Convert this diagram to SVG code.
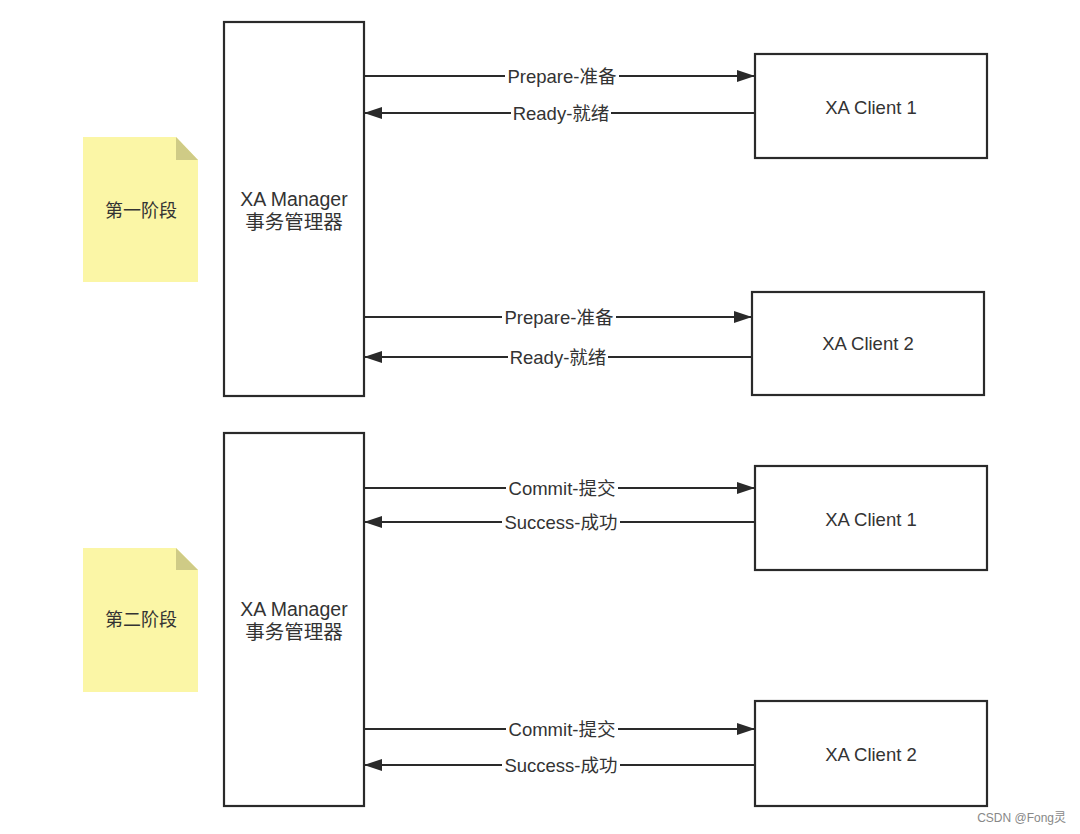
<svg xmlns="http://www.w3.org/2000/svg" width="1080" height="834" viewBox="0 0 1080 834">
<defs>
<style>
.box{fill:#fff;stroke:#2a2a2a;stroke-width:2.2}
.note{fill:#fbf6a6}
.fold{fill:#cfcb86}
.t{font-family:"Liberation Sans","Noto Sans CJK SC",sans-serif;font-size:18.5px;fill:#333;text-anchor:middle;dominant-baseline:central}
.tm{font-family:"Liberation Sans","Noto Sans CJK SC",sans-serif;font-size:19.5px;fill:#333;text-anchor:middle;dominant-baseline:central}
.nt{font-family:"Liberation Sans","Noto Sans CJK SC",sans-serif;font-size:18px;fill:#333;text-anchor:middle;dominant-baseline:central}
.lbl{font-family:"Liberation Sans","Noto Sans CJK SC",sans-serif;font-size:18.5px;fill:#333;text-anchor:middle;dominant-baseline:central}
.ln{stroke:#2a2a2a;stroke-width:2;fill:none}
.bg{fill:#fff}
.wm{font-family:"Liberation Sans","Noto Sans CJK SC",sans-serif;font-size:12px;fill:#888;text-anchor:end}
</style>
<marker id="ah2" viewBox="0 0 18 12" refX="18" refY="6" markerWidth="18" markerHeight="12" markerUnits="userSpaceOnUse" orient="auto"><path d="M0,0 L18,6 L0,12 z" fill="#2a2a2a"/></marker>
</defs>
<rect width="1080" height="834" fill="#fff"/>

<g id="connectors">
<line class="ln" x1="364" y1="76" x2="755" y2="76" marker-end="url(#ah2)"/>
<line class="ln" x1="755" y1="113" x2="364" y2="113" marker-end="url(#ah2)"/>
<line class="ln" x1="364" y1="317" x2="752" y2="317" marker-end="url(#ah2)"/>
<line class="ln" x1="752" y1="357" x2="364" y2="357" marker-end="url(#ah2)"/>
<line class="ln" x1="364" y1="488" x2="755" y2="488" marker-end="url(#ah2)"/>
<line class="ln" x1="755" y1="522" x2="364" y2="522" marker-end="url(#ah2)"/>
<line class="ln" x1="364" y1="729" x2="755" y2="729" marker-end="url(#ah2)"/>
<line class="ln" x1="755" y1="765" x2="364" y2="765" marker-end="url(#ah2)"/>
<rect class="bg" x="505" y="66" width="114" height="20"/>
<text class="lbl" x="562" y="76">Prepare-准备</text>
<rect class="bg" x="511" y="103" width="100" height="20"/>
<text class="lbl" x="561" y="113">Ready-就绪</text>
<rect class="bg" x="502" y="307" width="114" height="20"/>
<text class="lbl" x="559" y="317">Prepare-准备</text>
<rect class="bg" x="508" y="347" width="100" height="20"/>
<text class="lbl" x="558" y="357">Ready-就绪</text>
<rect class="bg" x="506" y="478" width="112" height="20"/>
<text class="lbl" x="562" y="488">Commit-提交</text>
<rect class="bg" x="502" y="512" width="118" height="20"/>
<text class="lbl" x="561" y="522">Success-成功</text>
<rect class="bg" x="506" y="719" width="112" height="20"/>
<text class="lbl" x="562" y="729">Commit-提交</text>
<rect class="bg" x="502" y="755" width="118" height="20"/>
<text class="lbl" x="561" y="765">Success-成功</text>
</g>

<g id="note1">
<path class="note" d="M83,137 L176,137 L198,160 L198,282 L83,282 z"/>
<path class="fold" d="M176,137 L198,160 L176,160 z"/>
<text class="nt" x="141" y="211">第一阶段</text>
</g>
<g id="manager1">
<rect class="box" x="224" y="22" width="140" height="374"/>
<text class="tm" x="294" y="199">XA Manager</text>
<text class="tm" x="294" y="222">事务管理器</text>
</g>
<g id="client1a">
<rect class="box" x="755" y="54" width="232" height="104"/>
<text class="t" x="871" y="107">XA Client 1</text>
</g>
<g id="client2a">
<rect class="box" x="752" y="292" width="232" height="103"/>
<text class="t" x="868" y="343">XA Client 2</text>
</g>

<g id="note2">
<path class="note" d="M83,548 L176,548 L198,570 L198,692 L83,692 z"/>
<path class="fold" d="M176,548 L198,570 L176,570 z"/>
<text class="nt" x="141" y="620">第二阶段</text>
</g>
<g id="manager2">
<rect class="box" x="224" y="433" width="140" height="373"/>
<text class="tm" x="294" y="609">XA Manager</text>
<text class="tm" x="294" y="632">事务管理器</text>
</g>
<g id="client1b">
<rect class="box" x="755" y="466" width="232" height="104"/>
<text class="t" x="871" y="519">XA Client 1</text>
</g>
<g id="client2b">
<rect class="box" x="755" y="701" width="232" height="105"/>
<text class="t" x="871" y="754">XA Client 2</text>
</g>

<text class="wm" x="1066" y="822">CSDN @Fong灵</text>
</svg>
